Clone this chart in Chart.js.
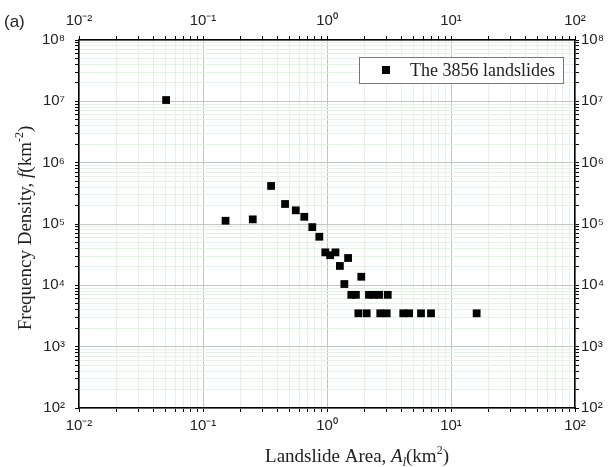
<!DOCTYPE html>
<html>
<head>
<meta charset="utf-8">
<script src="https://cdn.jsdelivr.net/npm/chart.js@4/dist/chart.umd.min.js"></script>
<style>
   html, body { margin: 0; padding: 0; background: #fff; }
   #wrap { width: 611px; height: 467px; position: relative; }
</style>
</head>
<body>
<div id="wrap"><canvas id="scatterChart"></canvas></div>
<script>
// landslide area (km2) and frequency density (km-2)
const areaKm2 = [
   0.0504, 0.152, 0.252, 0.354, 0.459, 0.560, 0.656, 0.761, 0.867, 0.969,
   1.06, 1.17, 1.27, 1.38, 1.48, 1.89,
   1.57, 1.71, 2.18, 2.39, 2.63, 3.09,
   1.79, 2.09, 2.69, 3.03, 4.12, 4.59, 5.73, 6.90, 16.1
];
const freqDensity = [
   1.05e7, 1.13e5, 1.19e5, 4.17e5, 2.12e5, 1.67e5, 1.31e5, 8.9e4, 6.2e4, 3.45e4,
   3.1e4, 3.45e4, 2.07e4, 1.05e4, 2.79e4, 1.38e4,
   7e3, 7e3, 7e3, 7e3, 7e3, 7e3,
   3.5e3, 3.5e3, 3.5e3, 3.5e3, 3.5e3, 3.5e3, 3.5e3, 3.5e3, 3.5e3
];
const seriesLabel = 'The 3856 landslides';

const xDecades = [0.01, 0.1, 1, 10, 100];
const xTickLabels = ['10⁻²', '10⁻¹', '10⁰', '10¹', '10²'];
const yDecades = [1e2, 1e3, 1e4, 1e5, 1e6, 1e7, 1e8];
const yTickLabels = ['10²', '10³', '10⁴', '10⁵', '10⁶', '10⁷', '10⁸'];

const tickFont = { family: "'Liberation Sans', Arial, sans-serif", size: 15 };
const serif = "'Liberation Serif', 'Times New Roman', serif";

function decadeIndex(decades, v) {
   return decades.findIndex(d => Math.abs(Math.log10(d) - Math.log10(v)) < 1e-6);
}

// decades plus 2..9 minor steps in between
function allTicks(decades) {
   const out = [];
   decades.forEach((d, i) => {
      out.push({ value: d });
      if (i < decades.length - 1) {
         for (let k = 2; k <= 9; k++) out.push({ value: d * k });
      }
   });
   return out;
}

function logAxis(position, decades, labels, size, onChart, pad) {
   return {
      type: 'logarithmic',
      position: position,
      min: decades[0],
      max: decades[decades.length - 1],
      afterBuildTicks: scale => { scale.ticks = allTicks(decades); },
      afterFit: scale => {
         if (position === 'left' || position === 'right') scale.width = size;
         else scale.height = size;
      },
      border: { display: true, color: '#000', width: 1.5 },
      grid: {
         drawOnChartArea: onChart,
         color: c => (c.tick && decadeIndex(decades, c.tick.value) >= 0) ? '#c4c4c4' : '#e2f3e2',
         lineWidth: 1,
         tickLength: 4,
         tickColor: '#000',
         tickWidth: 1,
      },
      ticks: {
         autoSkip: false,
         maxRotation: 0,
         font: tickFont,
         color: '#222',
         padding: pad,
         callback: v => {
            const i = decadeIndex(decades, v);
            return i >= 0 ? labels[i] : '';
         },
      },
   };
}

// draws text made of pieces: plain, italic, superscript, subscript
function richText(ctx, parts, size, x, y, family) {
   const fontOf = p => (p.italic ? 'italic ' : '') + Math.round(p.sup || p.sub ? size * 0.62 : size) + 'px ' + family;
   let total = 0;
   parts.forEach(p => { ctx.font = fontOf(p); total += ctx.measureText(p.t).width; });
   let cx = x - total / 2;
   ctx.textBaseline = 'alphabetic';
   ctx.textAlign = 'left';
   parts.forEach(p => {
      ctx.font = fontOf(p);
      let dy = 0;
      if (p.sup) dy = -size * 0.42;
      if (p.sub) dy = size * 0.2;
      ctx.fillText(p.t, cx, y + dy);
      cx += ctx.measureText(p.t).width;
   });
}

const decorations = {
   id: 'decorations',
   afterDraw(chart) {
      const ctx = chart.ctx;
      ctx.save();
      ctx.fillStyle = '#222';

      // panel tag
      ctx.font = '17px ' + tickFont.family;
      ctx.textAlign = 'left';
      ctx.textBaseline = 'middle';
      ctx.fillText('(a)', 4, 22);

      // x title
      richText(ctx, [
         { t: 'Landslide Area, ' },
         { t: 'A', italic: true },
         { t: 'l', italic: true, sub: true },
         { t: '(km' }, { t: '2', sup: true }, { t: ')' }
      ], 19, 357, 462, serif);

      // y title
      ctx.save();
      ctx.translate(31, 228);
      ctx.rotate(-Math.PI / 2);
      richText(ctx, [
         { t: 'Frequency Density, ' },
         { t: 'f', italic: true },
         { t: '(km' }, { t: '-2', sup: true }, { t: ')' }
      ], 19, 0, 0, serif);
      ctx.restore();

      // legend box inside the plot
      const bx = 359, by = 57, bw = 204, bh = 26;
      ctx.fillStyle = '#fff';
      ctx.fillRect(bx, by, bw, bh);
      ctx.strokeStyle = '#777';
      ctx.lineWidth = 1;
      ctx.strokeRect(bx + 0.5, by + 0.5, bw, bh);
      ctx.fillStyle = '#000';
      ctx.fillRect(382, 66, 8, 8);
      ctx.fillStyle = '#222';
      ctx.font = '18px ' + serif;
      ctx.textBaseline = 'middle';
      ctx.fillText(chart.data.datasets[0].label, 410, 71);
      ctx.restore();
   }
};

const ctx = document.getElementById('scatterChart').getContext('2d');

new Chart(ctx, {
   type: 'scatter',
   data: {
      datasets: [{
         label: seriesLabel,
         data: areaKm2.map((a, i) => ({ x: a, y: freqDensity[i] })),
         pointStyle: 'rect',
         radius: 5.5,
         backgroundColor: '#000',
         borderColor: '#000',
         borderWidth: 0,
      }],
   },
   options: {
      responsive: true,
      maintainAspectRatio: false,
      devicePixelRatio: 1,
      animation: false,
      layout: { padding: 0 },
      plugins: { legend: { display: false }, tooltip: { enabled: false } },
      scales: {
         x: logAxis('bottom', xDecades, xTickLabels, 59, true, 5),
         x2: logAxis('top', xDecades, xTickLabels, 40, false, 6),
         y: logAxis('left', yDecades, yTickLabels, 79, true, 10),
         y2: logAxis('right', yDecades, yTickLabels, 36, false, 2),
      },
   },
   plugins: [decorations],
});
</script>
</body>
</html>
